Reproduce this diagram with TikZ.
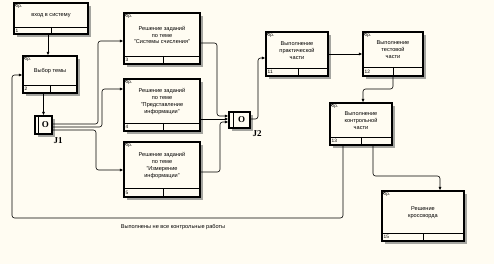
\documentclass[tikz,border=0pt]{standalone}
\usepackage{fontspec}
\setmainfont{Liberation Sans}
\newfontfamily\serifb{Liberation Serif}
\usetikzlibrary{arrows.meta,fit,calc}
\definecolor{bg}{RGB}{255,252,242}
\definecolor{shd}{RGB}{165,165,160}
\tikzset{
 boxst/.style={draw, line width=1.2pt, fill=bg, inner sep=0pt},
 shadowst/.style={fill=shd},
 txt/.style={font=\fontsize{5.6}{6.9}\selectfont, align=center, inner sep=0pt},
 smalltxt/.style={font=\fontsize{4.6}{5}\selectfont, inner sep=0.5pt, anchor=north west},
 numtxt/.style={font=\fontsize{4.8}{5}\selectfont, inner sep=0.5pt, anchor=west},
 conn/.style={line width=0.6pt, rounded corners=2.5pt, -{Latex[length=3.5pt,width=3pt]}},
 junc/.style={draw, line width=1.2pt, fill=bg, inner sep=0pt},
 jlab/.style={font=\serifb\bfseries\fontsize{9}{9}\selectfont, inner sep=0pt},
 jo/.style={font=\serifb\bfseries\fontsize{9}{9}\selectfont, inner sep=0pt},
 fbtxt/.style={font=\fontsize{5.6}{6}\selectfont, inner sep=0pt},
}
% #1 name, #2 x1, #3 y1, #4 x2, #5 y2, #6 strip y, #7 divider x, #8 number, #9 text
\newcommand\abox[9]{%
 \fill[shadowst] (#2+3,#3+3) rectangle (#4+3,#5+3);
 \coordinate (#1-nw) at (#2,#3);
 \coordinate (#1-se) at (#4,#5);
 \node[boxst, fit=(#1-nw)(#1-se)] (#1) {};
 \draw[line width=0.9pt] (#2,#6) -- (#4,#6);
 \draw[line width=0.9pt] (#7,#6) -- (#7,#5);
 \node[smalltxt] (#1-op) at (#2+1,#3+1) {0р.};
 \node[numtxt] (#1-n) at (#2+1,{(#6+#5)/2}) {#8};
 \node[txt] (#1-t) at ({(#2+#4)/2},{(#3+#6)/2+0.5}) {#9};
 \draw[line width=0.7pt] (#2,#3+3.5) -- (#2+3.5,#3);
}
% #1 name, #2 x1, #3 y1, #4 x2, #5 y2, #6 inner bar x
\newcommand\ajunc[6]{%
 \fill[shadowst] (#2+3,#3+3) rectangle (#4+3,#5+3);
 \coordinate (#1-nw) at (#2,#3);
 \coordinate (#1-se) at (#4,#5);
 \node[junc, fit=(#1-nw)(#1-se)] (#1) {};
 \draw[line width=0.9pt] (#6,#3) -- (#6,#5);
 \node[jo] (#1-o) at ({(#6+#4)/2},{(#3+#5)/2}) {O};
}
\begin{document}
\begin{tikzpicture}[x=1pt,y=-1pt]
\useasboundingbox (0,0) rectangle (494,264);
\fill[bg] (0,0) rectangle (494,264);

\abox{b1}{14}{3}{88}{34}{27}{51}{1}{вход в систему}
\abox{b2}{23}{56}{77}{93}{85}{50}{2}{Выбор темы}
\abox{b3}{124}{13}{200}{64}{56}{163}{3}{Решение заданий\\по теме\\"Системы счисления"}
\abox{b4}{124}{79}{200}{131}{123}{163}{4}{Решение заданий\\по теме\\"Представление\\информации"}
\abox{b5}{124}{142}{200}{197}{188}{163}{5}{Решение заданий\\по теме\\"Измерение\\информации"}
\abox{b11}{266}{32}{328}{76}{68}{298}{11}{Выполнение\\практической\\части}
\abox{b12}{363}{32}{423}{76}{67}{393}{12}{Выполнение\\тестовой\\части}
\abox{b13}{330}{103}{392}{145}{137}{361}{13}{Выполнение\\контрольной\\части}
\abox{b15}{382}{191}{464}{241}{233}{423}{15}{Решение\\кроссворда}

\ajunc{j1}{35}{116}{52}{134}{38.5}
\node[jlab] (j1l) at (58,141) {J1};
\ajunc{j2}{229}{112}{250}{128}{233}
\node[jlab] (j2l) at (257,134) {J2};

\draw[conn] (b1.south -| 48,0) -- (b2.north -| 48,0);
\draw[conn] (b2.south -| 43.5,0) -- (j1.north -| 43.5,0);

\draw[conn] (j1.east |- 0,124) -- (98,124) -- (98,41) -- (b3.west |- 0,41);
\draw[conn] (j1.east |- 0,127) -- (102,127) -- (102,89) -- (b4.west |- 0,89);
\draw[conn] (j1.east |- 0,130) -- (96,130) -- (96,170) -- (b5.west |- 0,170);

\draw[conn] (b3.east |- 0,43) -- (217,43) -- (217,116) -- (j2.west |- 0,116);
\draw[conn] (b4.east |- 0,119) -- (j2.west |- 0,119);
\draw[conn] (b5.east |- 0,172) -- (220,172) -- (220,122) -- (j2.west |- 0,122);

\draw[conn] (j2.east |- 0,119) -- (258,119) -- (258,58) -- (b11.west |- 0,58);
\draw[conn] (b11.east |- 0,54) -- (b12.west |- 0,54);
\draw[conn] (b12.south -| 393,0) -- (393,89) -- (363,89) -- (b13.north -| 363,0);
\draw[conn] (b13.south -| 373,0) -- (373,176) -- (440,176) -- (b15.north -| 440,0);
\draw[conn] (b13.south -| 343,0) -- (343,218) -- (12,218) -- (12,75) -- (b2.west |- 0,75);
\node[fbtxt] (fbl) at (173,227) {Выполнены не все контрольные работы};
\end{tikzpicture}
\end{document}
